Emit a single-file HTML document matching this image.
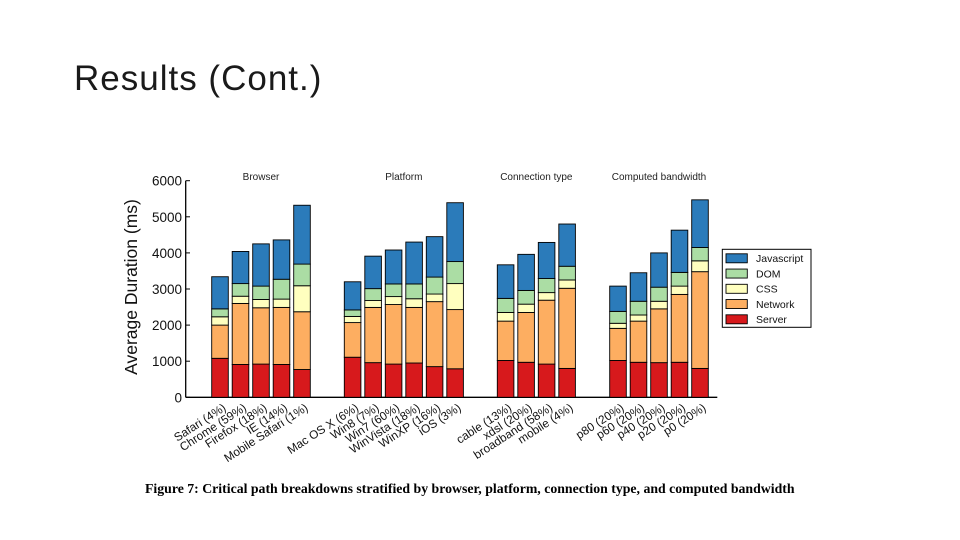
<!DOCTYPE html>
<html><head><meta charset="utf-8"><style>
body{margin:0;width:960px;height:540px;background:#fff;overflow:hidden;position:relative;font-family:"Liberation Sans",sans-serif}
#title{position:absolute;left:74px;top:59px;font-size:35px;color:#1a1a1a;letter-spacing:1px;white-space:nowrap}
#caption{position:absolute;left:145px;top:481px;font-family:"Liberation Serif",serif;font-weight:bold;font-size:13.8px;white-space:nowrap;color:#000}
svg{position:absolute;left:0;top:0}
</style></head><body>
<div id="title">Results (Cont.)</div>
<svg id="chart" width="960" height="540"></svg>
<div id="caption">Figure 7: Critical path breakdowns stratified by browser, platform, connection type, and computed bandwidth</div>
<script>
const groups = ["Browser","Platform","Connection type","Computed bandwidth"];
const categories = [
 ["Safari (4%)","Chrome (59%)","Firefox (18%)","IE (14%)","Mobile Safari (1%)"],
 ["Mac OS X (6%)","Win8 (7%)","Win7 (60%)","WinVista (18%)","WinXP (16%)","iOS (3%)"],
 ["cable (13%)","xdsl (20%)","broadband (58%)","mobile (4%)"],
 ["p80 (20%)","p60 (20%)","p40 (20%)","p20 (20%)","p0 (20%)"]
];
const seriesNames = ["Server","Network","CSS","DOM","Javascript"];
const server  = [1080,910,920,910,770, 1110,960,920,950,850,790, 1020,970,920,800, 1020,970,960,970,800];
const network = [920,1690,1560,1580,1600, 960,1530,1650,1540,1800,1640, 1090,1380,1770,2220, 890,1140,1490,1880,2680];
const css     = [230,200,230,230,720, 170,190,220,240,210,720, 240,230,210,230, 140,170,210,230,300];
const dom     = [220,350,370,550,600, 180,330,350,410,470,610, 390,380,390,380, 330,380,390,380,370];
const js      = [890,890,1170,1090,1630, 780,900,940,1160,1120,1630, 930,1000,1000,1170, 700,790,950,1170,1320];
const yTicks = [0,1000,2000,3000,4000,5000,6000];
const colors = ["#d7191c","#fdae61","#ffffbf","#abdda4","#2b7bba"];

const NS="http://www.w3.org/2000/svg";
const svg=document.getElementById('chart');
function mk(tag,attrs,parent){const e=document.createElementNS(NS,tag);for(const k in attrs)e.setAttribute(k,attrs[k]);(parent||svg).appendChild(e);return e;}
const y0=397.3, yTop=180.7, yMax=6000;
function yS(v){return y0-(v/yMax)*(y0-yTop);}
const groupStart=[211.7,344.3,497.3,609.7], pitch=20.5, bw=16.6;
function xS(g,i){return groupStart[g]+i*pitch;}

const ax=mk('line',{x1:185.7,y1:y0,x2:717.3,y2:y0,stroke:'#000','stroke-width':1.3});


const ay=mk('line',{x1:185.7,y1:y0,x2:185.7,y2:yTop,stroke:'#000','stroke-width':1.3});


yTicks.forEach(v=>{
 const t=mk('line',{x1:185.7,y1:yS(v),x2:190,y2:yS(v),stroke:'#000','stroke-width':1});
 
 
 const l=mk('text',{x:182,y:yS(v)+5,'text-anchor':'end','font-size':13.5,fill:'#111'});
 l.textContent=v;
 
 
});
const yl=mk('text',{x:0,y:0,transform:'translate(137,287) rotate(-90)','text-anchor':'middle','font-size':17.5,fill:'#111'});
yl.textContent='Average Duration (ms)';



const series=[server,network,css,dom,js];
let idx=0;
categories.forEach((cats,g)=>{
 const n=cats.length;
 const gt=mk('text',{x:xS(g,0)+((n-1)*pitch+bw)/2,y:180,'text-anchor':'middle','font-size':10,fill:'#222'});
 gt.textContent=groups[g];
 
 
 cats.forEach((c,i)=>{
  const x=xS(g,i);
  let cum=0;
  series.forEach((s,si)=>{
   const v=s[idx];
   const r=mk('rect',{x:x,y:yS(cum+v),width:bw,height:yS(cum)-yS(cum+v),fill:colors[si],stroke:'#000','stroke-width':0.9});
   
   
   cum+=v;
  });
  const cx=x+bw/2+2, cy=y0+5;
  const tl=mk('text',{x:0,y:0,transform:`translate(${cx},${cy}) rotate(-33)`,'text-anchor':'end','font-size':11.8,fill:'#111','dominant-baseline':'hanging'});
  tl.textContent=c;
  
  
  idx++;
 });
});

const lg=mk('g',{});


mk('rect',{x:722.3,y:249.3,width:88.7,height:78,fill:'#fff',stroke:'#000','stroke-width':1},lg);
const legRows=[4,3,2,1,0];
legRows.forEach((si,k)=>{
 const cy=258.3+k*15.25;
 const sw=mk('rect',{x:726,y:cy-4.5,width:21.3,height:9,fill:colors[si],stroke:'#000','stroke-width':0.9},lg);
 
 
 const t=mk('text',{x:756,y:cy+3.8,'font-size':10.5,fill:'#111'},lg);
 t.textContent=seriesNames[si];
 
 
});
</script>
</body></html>
